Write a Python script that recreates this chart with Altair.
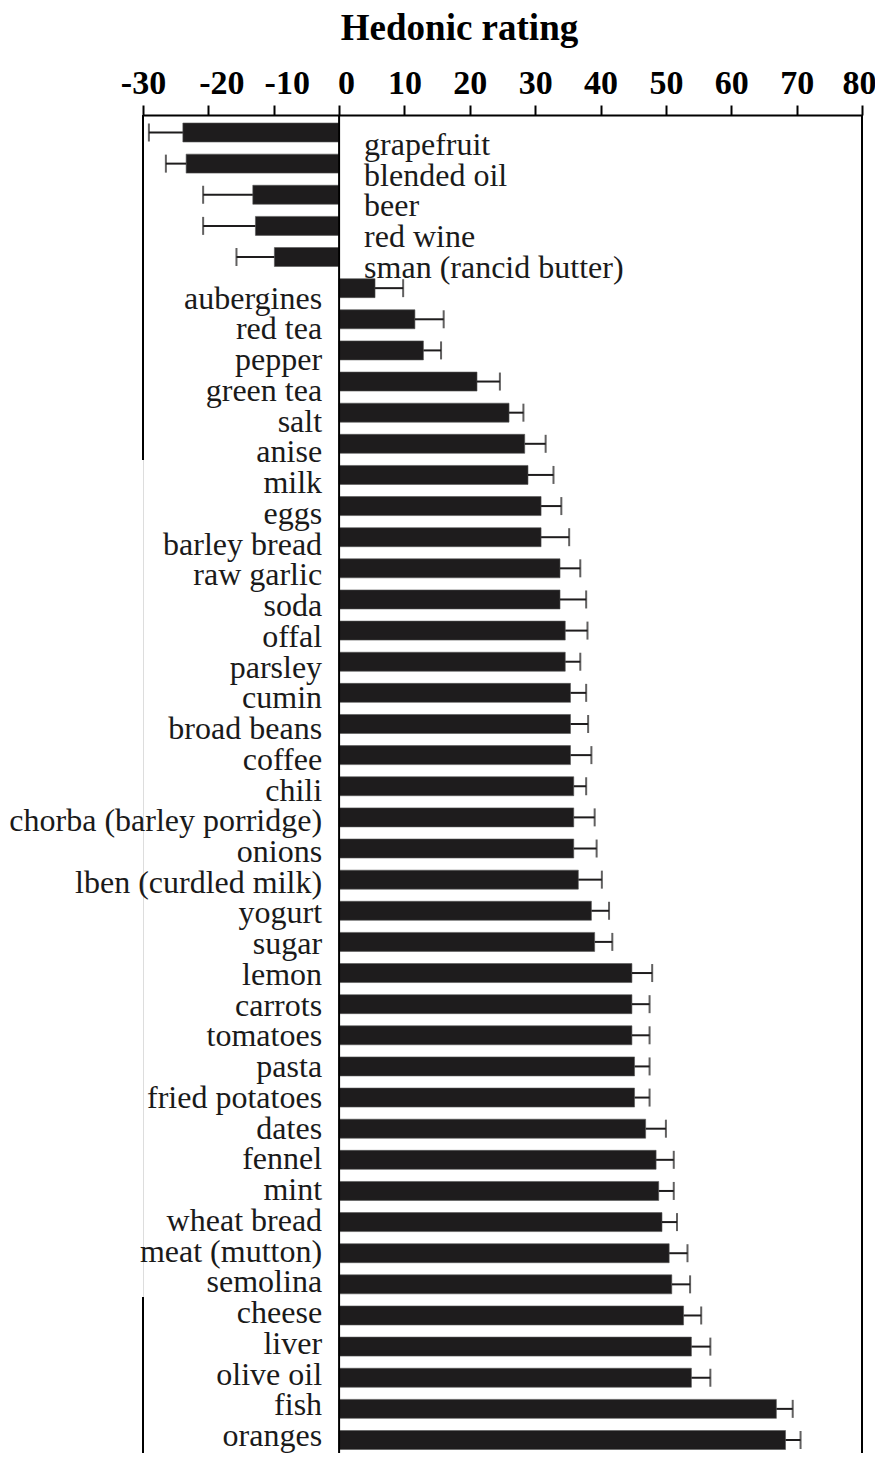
import altair as alt
import pandas as pd

foods = ["grapefruit", "blended oil", "beer", "red wine", "sman (rancid butter)",
         "aubergines", "red tea", "pepper", "green tea", "salt", "anise", "milk",
         "eggs", "barley bread", "raw garlic", "soda", "offal", "parsley", "cumin",
         "broad beans", "coffee", "chili", "chorba (barley porridge)", "onions",
         "lben (curdled milk)", "yogurt", "sugar", "lemon", "carrots", "tomatoes",
         "pasta", "fried potatoes", "dates", "fennel", "mint", "wheat bread",
         "meat (mutton)", "semolina", "cheese", "liver", "olive oil", "fish", "oranges"]
ratings = [-23.9, -23.4, -13.2, -12.8, -9.9,
           5.5, 11.6, 12.9, 21.1, 26.0, 28.4, 28.9,
           30.9, 30.9, 33.8, 33.8, 34.6, 34.6, 35.4,
           35.4, 35.4, 35.9, 35.9, 35.9,
           36.6, 38.6, 39.1, 44.8, 44.8, 44.8,
           45.2, 45.2, 46.9, 48.5, 48.9, 49.4,
           50.5, 50.9, 52.7, 53.9, 53.9, 66.9, 68.3]
errors = [5.2, 3.1, 7.6, 8.0, 5.8,
          4.3, 4.4, 2.7, 3.5, 2.2, 3.2, 3.9,
          3.1, 4.3, 3.1, 4.0, 3.4, 2.3, 2.4,
          2.7, 3.2, 1.9, 3.2, 3.5,
          3.6, 2.7, 2.7, 3.1, 2.7, 2.7,
          2.3, 2.3, 3.1, 2.7, 2.3, 2.3,
          2.8, 2.8, 2.7, 2.9, 2.9, 2.5, 2.3]
x_ticks = [-30, -20, -10, 0, 10, 20, 30, 40, 50, 60, 70, 80]

df = pd.DataFrame({"food": foods, "rating": ratings, "err": errors})
df["end"] = df["rating"] + df["err"] * df["rating"].apply(lambda v: 1 if v >= 0 else -1)

FONT = "Liberation Serif"
INK = "#1e1c1d"
PLOT_H = 1338
BAND_RANGE = [0, 1342.5]
FULL = 1360

xscale = alt.Scale(domain=[-30, 80], nice=False, zero=False)
yband = alt.Scale(domain=foods, range=BAND_RANGE, paddingInner=0.39, paddingOuter=0.257)

base = alt.Chart(df)

bars = base.mark_bar(color=INK, stroke="#555555", strokeWidth=0.6).encode(
    x=alt.X("rating:Q", scale=xscale,
            axis=alt.Axis(orient="top", values=x_ticks, grid=False,
                          domainColor="black", domainWidth=2,
                          tickColor="black", tickWidth=2, tickSize=10,
                          labelExpr="'' + datum.value",
                          labelOffset=alt.ExprRef("datum.value == 0 ? 7 : (datum.value < 0 && datum.value > -30 ? 13 : (datum.value == 80 ? -3 : 0))"),
                          labelFont=FONT, labelFontWeight="bold", labelFontSize=34,
                          labelColor="black", labelPadding=12, labelBaseline="alphabetic",
                          labelFlush=False,
                          title="Hedonic rating", titleFont=FONT, titleFontSize=37,
                          titleFontWeight="bold", titleColor="black",
                          titleX=316, titleY=-87, titleAlign="center",
                          titleBaseline="middle")),
    x2=alt.datum(0),
    y=alt.Y("food:N", scale=yband, axis=None, sort=foods),
)

err_line = base.mark_rule(color=INK, strokeWidth=2).encode(
    x=alt.X("rating:Q", scale=xscale),
    x2="end:Q",
    y=alt.Y("food:N", scale=yband, sort=foods, bandPosition=0.5),
)

caps = base.mark_tick(color=INK, thickness=2, size=18, orient="vertical").encode(
    x=alt.X("end:Q", scale=xscale),
    y=alt.Y("food:N", scale=yband, sort=foods),
)

lines_df = pd.DataFrame({"xv": [0, 80, -30, -30], "y0": [0, 0, 0, 1182], "y1": [FULL, FULL, 345, FULL]})
frame = alt.Chart(lines_df).mark_rule(color="black", strokeWidth=2).encode(
    x=alt.X("xv:Q", scale=xscale),
    y=alt.Y("y0:Q", scale=alt.Scale(domain=[0, FULL], range=[0, FULL]), axis=None),
    y2="y1:Q",
)

label_scale = alt.Scale(domain=foods, range=[30, 1321], type="point", padding=0)

neg_labels = base.transform_filter("datum.rating < 0").mark_text(
    align="left", baseline="middle", dx=25, font=FONT, fontSize=32, color="#1a1a1a"
).encode(
    x=alt.datum(0),
    y=alt.Y("food:N", scale=label_scale, axis=None, sort=foods),
    text="food:N",
)

pos_labels = base.transform_filter("datum.rating >= 0").mark_text(
    align="right", baseline="middle", dx=-17, font=FONT, fontSize=32, color="#1a1a1a"
).encode(
    x=alt.datum(0),
    y=alt.Y("food:N", scale=label_scale, axis=None, sort=foods),
    text="food:N",
)

layer_bars = alt.layer(bars, err_line, caps)
layer_labels = alt.layer(neg_labels, pos_labels)

chart = alt.layer(layer_bars, frame, layer_labels).resolve_scale(
    y="independent"
).properties(
    width=719, height=PLOT_H,
    autosize=alt.AutoSizeParams(type="none"),
    padding={"left": 135, "top": 107, "right": 13, "bottom": 0},
).configure_view(stroke=None).configure(background="white")

chart.save("out.html", embed_options={"renderer": "svg", "actions": False})
